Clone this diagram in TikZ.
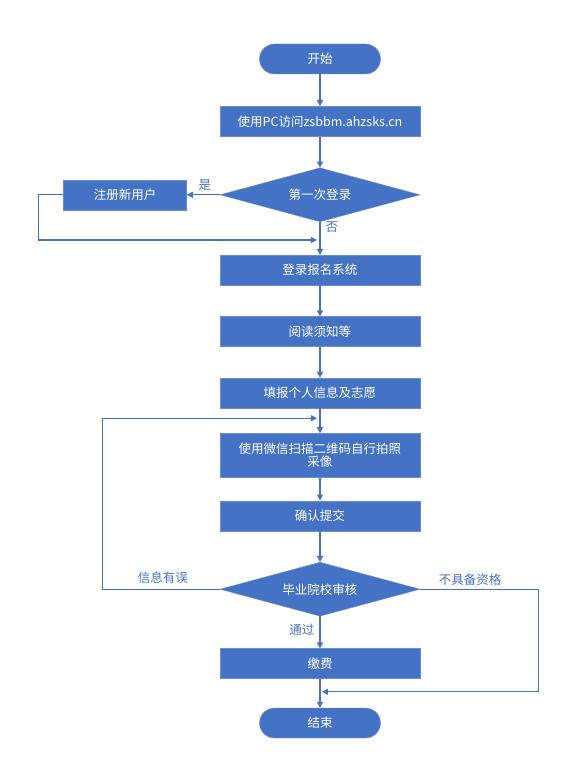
\documentclass[tikz,border=0pt]{standalone}
\usepackage{fontspec}
\setmainfont{Noto Sans CJK SC}
\usepackage{xcolor}
\definecolor{flowblue}{HTML}{4472C4}
\usetikzlibrary{arrows.meta,positioning,calc,shapes.geometric}

\begin{document}
\begin{tikzpicture}[
  box/.style={draw=flowblue!80!white, fill=flowblue, text=white, align=center, font=\fontsize{12.5}{15}\selectfont, minimum height=30pt, minimum width=#1, inner sep=2pt},
  box/.default=200pt,
  term/.style={box=121pt, rounded corners=15pt},
  dec/.style={diamond, draw=flowblue!80!white, fill=flowblue, text=white, font=\fontsize{12.5}{15}\selectfont, aspect=3.7, inner sep=0pt, minimum width=200pt, minimum height=54pt},
  lbl/.style={text=flowblue, font=\fontsize{12.5}{15}\selectfont, inner sep=1pt},
  arr/.style={-{Triangle[length=6pt, width=6pt]}, draw=flowblue, line width=1.2pt}]
\useasboundingbox (-320pt,59pt) rectangle (264pt,-709pt);
\node[term] (start) at (0,0) {开始};
\node[box, below=32pt of start] (visit) {使用PC访问zsbbm.ahzsks.cn};
\node[dec, below=31pt of visit] (first) {第一次登录};
\node[box=123pt, left=33pt of first] (reg) {注册新用户};
\node[box, below=33pt of first] (login) {登录报名系统};
\node[box, below=31pt of login] (read) {阅读须知等};
\node[box, below=31pt of read] (fill) {填报个人信息及志愿};
\node[box, minimum height=44pt, below=25pt of fill] (photo) {使用微信扫描二维码自行拍照\\[-2pt]采像};
\node[box, below=23pt of photo] (submit) {确认提交};
\node[dec, below=31pt of submit] (check) {毕业院校审核};
\node[box, below=32pt of check] (pay) {缴费};
\node[term, below=29pt of pay] (end) {结束};
\coordinate (j1) at ($(first.south)+(0,-18pt)$);
\coordinate (j2) at ($(fill.south)+(0,-10pt)$);
\coordinate (j3) at ($(pay.south)+(0,-13pt)$);
\draw[arr] (start)--(visit); \draw[arr] (visit)--(first);
\draw[arr] (first.west)--(reg.east) node[lbl, pos=0.45, above=3pt] {是};
\draw[arr] (reg.west) -- ++(-25pt,0) |- ($(j1)+(-3pt,0)$);
\draw[arr] (first.south)--(login.north) node[lbl, pos=0.15, right=4pt] {否};
\draw[arr] (login)--(read); \draw[arr] (read)--(fill); \draw[arr] (fill)--(photo);
\draw[arr] (photo)--(submit); \draw[arr] (submit)--(check);
\draw[arr] (check.west) -- ++(-117pt,0) |- ($(j2)+(-3pt,0)$);
\node[lbl, above=4pt] (wrong) at ($(check.west)+(-57pt,0)$) {信息有误};
\draw[arr] (check.east) -- ++(118pt,0) |- ($(j3)+(2pt,0)$);
\node[lbl, above=2pt] (noqual) at ($(check.east)+(50pt,0)$) {不具备资格};
\draw[arr] (check.south)--(pay.north) node[lbl, pos=0.4, left=4pt] {通过};
\draw[arr] (pay)--(end);
\end{tikzpicture}
\end{document}
